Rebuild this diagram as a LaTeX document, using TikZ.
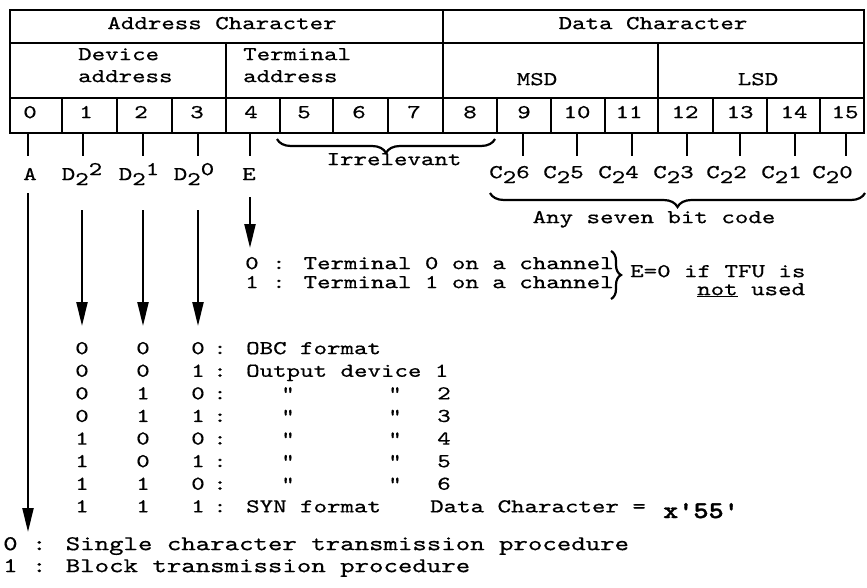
\documentclass[tikz,border=0pt]{standalone}
\usepackage{fontspec}
\newfontfamily\tw{lmmono10-regular.otf}[FakeStretch=1.31, FakeBold=0.6]
\newfontfamily\twb{lmmonolt10-bold.otf}[FakeStretch=1.2, FakeBold=1.5]
\usetikzlibrary{arrows.meta,decorations.pathreplacing}
\tikzset{
  lbl/.style={font=\tw\fontsize{19.6}{22}\selectfont, inner sep=0pt, anchor=mid},
  lblw/.style={lbl, anchor=mid west},
  biglbl/.style={font=\tw\fontsize{21}{24}\selectfont, inner sep=0pt, anchor=mid west},
  frame/.style={line width=2.6pt},
  gridln/.style={line width=1.6pt},
  tickln/.style={line width=1.6pt},
  arr/.style={line width=2.2pt, -{Triangle[length=24pt,width=11pt]}},
  brc/.style={line width=2.2pt, decorate, decoration={brace, amplitude=14pt}},
  brcm/.style={line width=2.2pt, decorate, decoration={brace, mirror, amplitude=14pt}},
}
\newcommand{\dsub}{\raisebox{-5pt}{2}}
\newcommand{\dsup}[1]{\raisebox{5pt}{#1}}
\begin{document}
\begin{tikzpicture}[x=1pt,y=-1pt]
\useasboundingbox (0,0) rectangle (867,587);
% ---------- table ----------
\draw[frame] (10,10) rectangle (864,133);
\draw[gridln] (10,43) -- (864,43) (10,98) -- (864,98);
\draw[gridln] (443,10) -- (443,133);
\draw[gridln] (226,43) -- (226,133) (658,43) -- (658,133);
\foreach \x in {62,117,172,280,333,388,497,551,605,713,767,820}
  \draw[gridln] (\x,98) -- (\x,133);
\node[lbl] (addr) at (222,27) {Address Character};
\node[lbl] (datac) at (653,27) {Data Character};
\node[lblw] (dev1) at (78,58) {Device};
\node[lblw] (dev2) at (78,80) {address};
\node[lblw] (ter1) at (243,58) {Terminal};
\node[lblw] (ter2) at (243,80) {address};
\node[lbl] (msd) at (537,83) {MSD};
\node[lbl] (lsd) at (758,83) {LSD};
\foreach \i/\x in {0/30,1/86,2/141,3/197,4/251,5/304,6/359,7/414,8/470,9/524,10/577,11/629,12/685,13/740,14/794,15/845}
  \node[lbl] (b\i) at (\x,116) {\i};
% ---------- ticks ----------
\foreach \i/\x in {0/28,1/83,2/143,3/198,4/250,9/523,10/577,11/632,12/687,13/740,14/795,15/846}{
  \coordinate (ta\i) at (\x,133);
  \coordinate (tb\i) at (\x,156);
  \draw[tickln] (ta\i) -- (tb\i);
}
% ---------- labels ----------
\node[lbl] (lA) at (30,178) {A};
\node[lbl] (lD2) at (82,178) {D\dsub\dsup{2}};
\node[lbl] (lD1) at (139,178) {D\dsub\dsup{1}};
\node[lbl] (lD0) at (194,178) {D\dsub\dsup{0}};
\node[lbl] (lE) at (249,178) {E};
\foreach \i/\x in {6/523,5/577,4/632,3/687,2/740,1/795,0/846}
  \node[lbl] (c\i) at ({\x-13.5},176) {C\dsub\i};
% braces
\coordinate (irrL) at (277,139);
\coordinate (irrR) at (495,139);
\draw[brcm] (irrL) -- (irrR);
\node[lbl] (irr) at (394,163) {Irrelevant};
\coordinate (anyL) at (490,193);
\coordinate (anyR) at (865,193);
\draw[brcm] (anyL) -- (anyR);
\node[lbl] (any) at (654,221) {Any seven bit code};
% ---------- arrows ----------
\coordinate (A1) at (28,193);  \coordinate (A2) at (28,532);
\coordinate (D21) at (82,210); \coordinate (D22) at (82,326);
\coordinate (D11) at (143,210); \coordinate (D12) at (143,326);
\coordinate (D01) at (198,210); \coordinate (D02) at (198,326);
\coordinate (E1) at (250,197); \coordinate (E2) at (250,248);
\draw[arr] (A1) -- (A2);
\draw[arr] (D21) -- (D22);
\draw[arr] (D11) -- (D12);
\draw[arr] (D01) -- (D02);
\draw[arr] (E1) -- (E2);
% ---------- terminal ----------
\node[lblw] (term0) at (245,267) {0 : Terminal 0 on a channel};
\node[lblw] (term1) at (245,286) {1 : Terminal 1 on a channel};
\coordinate (tbT) at (611,251);
\coordinate (tbB) at (611,299);
\draw[line width=2.2pt, decorate, decoration={brace, amplitude=10pt}] (tbT) -- (tbB);
\node[lblw] (eq) at (630,275) {E=0 if TFU is};
\node[lblw] (notu) at (697,293) {\underline{not} used};
% ---------- listing ----------
\foreach \k/\p/\q/\r in {0/0/0/0,1/0/0/1,2/0/1/0,3/0/1/1,4/1/0/0,5/1/0/1,6/1/1/0,7/1/1/1}{
  \node[lbl] (r\k a) at (82,{352+22.6*\k}) {\p};
  \node[lbl] (r\k b) at (143,{352+22.6*\k}) {\q};
  \node[lbl] (r\k c) at (198,{352+22.6*\k}) {\r};
  \node[lbl] (r\k d) at (220,{352+22.6*\k}) {:};
}
\node[lblw] (t0) at (246,352) {OBC format};
\node[lblw] (t1) at (246,374.6) {Output device 1};
\foreach \k/\n in {2/2,3/3,4/4,5/5,6/6}{
  \node[lbl] (q\k a) at (288,{352+22.6*\k}) {"};
  \node[lbl] (q\k b) at (395,{352+22.6*\k}) {"};
  \node[lbl] (n\k) at (444,{352+22.6*\k}) {\n};
}
\node[lblw] (t7) at (246,510.2) {SYN format};
\node[lblw] (dc) at (430,510.2) {Data Character =};
\node[font=\twb\fontsize{24}{26}\selectfont, inner sep=0pt, anchor=base west] (x55) at (663,518) {x'55'};
% ---------- bottom ----------
\node[biglbl] (s0) at (3,548) {0 : Single character transmission procedure};
\node[biglbl] (s1) at (3,570) {1 : Block transmission procedure};
\end{tikzpicture}
\end{document}
